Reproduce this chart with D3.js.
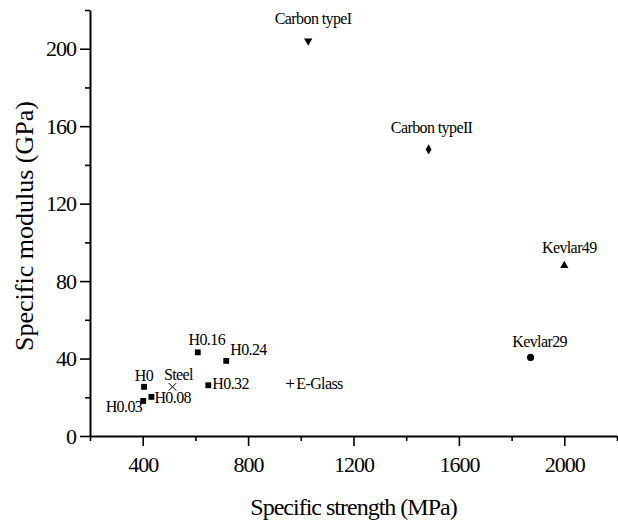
<!DOCTYPE html>
<html>
<head>
<meta charset="utf-8">
<script src="https://d3js.org/d3.v7.min.js"></script>
<style>
  body { margin: 0; background: #fff; }
  text { font-family: "Liberation Serif", "Times New Roman", serif; fill: #000; }
</style>
</head>
<body>
<div id="chart"></div>
<script>
// values
const materials = ["H0", "H0.03", "H0.08", "H0.16", "H0.24", "H0.32", "Steel", "E-Glass",
                   "Carbon typeI", "Carbon typeII", "Kevlar29", "Kevlar49"];
const strength = [405, 402, 433, 609, 717, 649, 513, 960, 1028, 1485, 1872, 2000];   // MPa
const modulus  = [25.4, 18.1, 20.2, 43.2, 38.8, 26.2, 25.4, 27.1, 204, 148, 40.6, 88]; // GPa
const shapes   = ["square", "square", "square", "square", "square", "square", "x", "plus",
                  "triangleDown", "diamond", "circle", "triangle"];

const xMajor = [400, 800, 1200, 1600, 2000];
const xMinor = [200, 600, 1000, 1400, 1800, 2200];
const yMajor = [0, 40, 80, 120, 160, 200];
const yMinor = [20, 60, 100, 140, 180, 220];

// where each label sits relative to its marker
const labelPos = {
  "H0":            { anchor: "middle", dx: 0,  dy: -6 },
  "H0.03":         { anchor: "end",    dx: -1, dy: 11 },
  "H0.08":         { anchor: "start",  dx: 3,  dy: 6 },
  "H0.16":         { anchor: "middle", dx: 9,  dy: -7 },
  "H0.24":         { anchor: "start",  dx: 4,  dy: -6 },
  "H0.32":         { anchor: "start",  dx: 4,  dy: 4 },
  "Steel":         { anchor: "middle", dx: 6,  dy: -7 },
  "E-Glass":       { anchor: "start",  dx: 6,  dy: 5 },
  "Carbon typeI":  { anchor: "middle", dx: 5,  dy: -17 },
  "Carbon typeII": { anchor: "middle", dx: 3,  dy: -16 },
  "Kevlar29":      { anchor: "middle", dx: 9,  dy: -10 },
  "Kevlar49":      { anchor: "middle", dx: 5,  dy: -13 }
};

const width = 618, height = 525;
const plotLeft = 90, plotRight = 617, plotTop = 10, plotBottom = 436;

const svg = d3.select("#chart")
  .append("svg")
  .attr("width", width)
  .attr("height", height);

const x = d3.scaleLinear().domain([200, 2200]).range([plotLeft, plotRight]);
const y = d3.scaleLinear().domain([0, 220]).range([plotBottom, plotTop]);

// x axis: major ticks with labels, minor ticks without
svg.append("g")
  .attr("transform", `translate(0, ${plotBottom})`)
  .call(d3.axisBottom(x).tickValues(xMajor).tickFormat(d3.format("d"))
    .tickSize(10).tickPadding(10).tickSizeOuter(0))
  .call(g => g.selectAll("text")
    .style("font-size", "22px")
    .style("letter-spacing", "-1px")
    .style("font-family", "'Liberation Serif', serif"));

svg.append("g")
  .attr("transform", `translate(0, ${plotBottom})`)
  .call(d3.axisBottom(x).tickValues(xMinor).tickSize(5).tickFormat("").tickSizeOuter(0))
  .call(g => g.select(".domain").remove());

// y axis
svg.append("g")
  .attr("transform", `translate(${plotLeft}, 0)`)
  .call(d3.axisLeft(y).tickValues(yMajor).tickFormat(d3.format("d"))
    .tickSize(10).tickPadding(4).tickSizeOuter(0))
  .call(g => g.selectAll("text")
    .style("font-size", "22px")
    .style("letter-spacing", "-1px")
    .style("font-family", "'Liberation Serif', serif"));

svg.append("g")
  .attr("transform", `translate(${plotLeft}, 0)`)
  .call(d3.axisLeft(y).tickValues(yMinor).tickSize(5).tickFormat("").tickSizeOuter(0))
  .call(g => g.select(".domain").remove());

svg.selectAll(".domain").attr("stroke-width", 2);
svg.selectAll(".tick line").attr("stroke-width", 1.6);

// axis titles
svg.append("text")
  .attr("x", (plotLeft + plotRight) / 2)
  .attr("y", 515)
  .attr("text-anchor", "middle")
  .style("font-size", "24px")
  .style("letter-spacing", "-1px")
  .text("Specific strength (MPa)");

svg.append("text")
  .attr("transform", `translate(33, ${(plotTop + plotBottom) / 2 + 3}) rotate(-90)`)
  .attr("text-anchor", "middle")
  .style("font-size", "26px")
  .text("Specific modulus (GPa)");

// markers
const symbolType = {
  square: d3.symbolSquare,
  circle: d3.symbolCircle,
  diamond: d3.symbolDiamond,
  triangle: d3.symbolTriangle,
  triangleDown: d3.symbolTriangle,
  x: d3.symbolX,
  plus: d3.symbolPlus
};
const symbolSize = { square: 34, circle: 40, diamond: 30, triangle: 30, triangleDown: 30, x: 40, plus: 24 };

const points = materials.map((name, i) => ({
  name, s: strength[i], m: modulus[i], shape: shapes[i]
}));

svg.selectAll(".pt")
  .data(points)
  .enter()
  .append("path")
  .attr("class", "pt")
  .attr("d", d => d3.symbol().type(symbolType[d.shape]).size(symbolSize[d.shape])())
  .attr("transform", d => `translate(${x(d.s)}, ${y(d.m)})` + (d.shape === "triangleDown" ? " rotate(180)" : ""))
  .attr("fill", d => (d.shape === "x" || d.shape === "plus") ? "none" : "#000")
  .attr("stroke", d => (d.shape === "x" || d.shape === "plus") ? "#000" : "none")
  .attr("stroke-width", 1);

// point labels
svg.selectAll(".lbl")
  .data(points)
  .enter()
  .append("text")
  .attr("class", "lbl")
  .attr("x", d => x(d.s) + labelPos[d.name].dx)
  .attr("y", d => y(d.m) + labelPos[d.name].dy)
  .attr("text-anchor", d => labelPos[d.name].anchor)
  .style("font-size", "16px")
  .style("letter-spacing", "-0.6px")
  .text(d => d.name);
</script>
</body>
</html>
